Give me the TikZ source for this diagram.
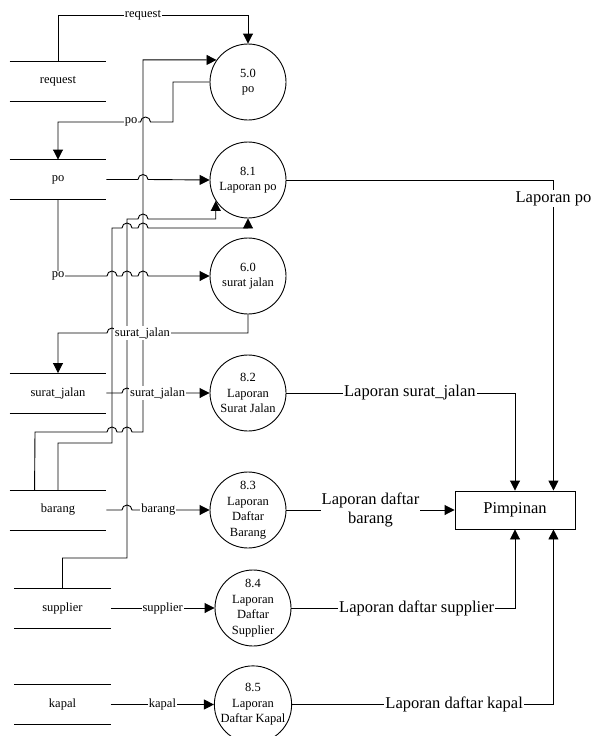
\documentclass[tikz,border=0pt]{standalone}
\usepackage{fontspec}
\setmainfont{Liberation Serif}
\newfontfamily\tnr{Liberation Serif}
\usetikzlibrary{arrows.meta,calc}
\newcommand{\hopR}[2]{-- (#1-5,#2) arc[start angle=180,end angle=0,radius=5pt]}
\newcommand{\hopL}[2]{-- (#1+5,#2) arc[start angle=0,end angle=180,radius=5pt]}
\begin{document}
\begin{tikzpicture}[x=1pt,y=-1pt,line width=0.9pt,
  proc/.style={circle,draw,minimum size=76pt,inner sep=0pt,align=center,font=\tnr\fontsize{12.5}{15.5}\selectfont},
  store/.style={minimum width=96pt,minimum height=39pt,inner sep=0pt,font=\tnr\fontsize{12.5}{15}\selectfont},
  ent/.style={draw,minimum width=120pt,minimum height=38pt,inner sep=0pt,font=\tnr\fontsize{16.5}{19.5}\selectfont},
  flow/.style={-{Triangle[length=10pt,width=10pt]}},
  lbl/.style={fill=white,inner sep=1pt,font=\tnr\fontsize{12.5}{15}\selectfont},
  blbl/.style={fill=white,inner sep=1pt,align=center,font=\tnr\fontsize{16.5}{19.5}\selectfont}]
\useasboundingbox (0,0) rectangle (593,736);

% processes
\node[proc] (c50) at (248,82) {5.0\\po};
\node[proc] (c81) at (248,180) {8.1\\Laporan po};
\node[proc] (c60) at (248,276) {6.0\\surat jalan};
\node[proc] (c82) at (248,393) {8.2\\Laporan\\Surat Jalan};
\node[proc] (c83) at (248,510) {8.3\\Laporan\\Daftar\\Barang};
\node[proc] (c84) at (253,608) {8.4\\Laporan\\Daftar\\Supplier};
\node[proc] (c85) at (253,704.5) {8.5\\Laporan\\Daftar Kapal};

% stores
\node[store] (sreq) at (58,81.5) {request};
\node[store] (spo) at (58,179.5) {po};
\node[store] (ssj) at (58,393) {surat\_jalan};
\node[store] (sbar) at (58,510) {barang};
\node[store] (ssup) at (62.5,608) {supplier};
\node[store] (skap) at (62.5,704.5) {kapal};
\foreach \s in {sreq,spo,ssj,sbar,ssup,skap}{
  \draw (\s.north west) -- (\s.north east) (\s.south west) -- (\s.south east);
}

% external entity
\node[ent] (pim) at (515,510) {Pimpinan};

% long routed flows
\draw[flow] ($(sbar.north west)+(25,0)$) -- (35,432) \hopR{112}{432} \hopR{127}{432} -- (143,432) |- (c50.145);
\draw[flow] (sbar.north) |- (112,443) -- (112,228) \hopR{127}{228} \hopR{143}{228} -| (c81.south);
\draw[flow] (ssup.north) |- (127,558) -- (127,219) \hopR{143}{219} -| (c81.213);

% request
\draw[flow] (sreq.north) -- (58,15) -- node[lbl,pos=0.447]{request} (248,15) -- (c50.north);
% 5.0 -> po store
\draw[flow] (c50.west) -- (173,82) -- (173,122) \hopL{145.5}{122} -- node[lbl,pos=0.115]{po} (58,122) -- (spo.north);
% po store -> 8.1
\draw[flow] (spo.east) \hopR{143}{179.5} -- (c81.west);
% po store -> 6.0
\draw[flow] (spo.south) -- (58,276) node[lbl]{po} \hopR{112}{276} \hopR{127}{276} \hopR{143}{276} -- (c60.west);
% 6.0 -> surat_jalan store
\draw[flow] (c60.south) |- node[lbl,pos=0.903]{surat\_jalan} (117,333) arc[start angle=0,end angle=180,radius=5pt] -| (ssj.north);
% stores -> reports
\draw[flow] (ssj.east) \hopR{127}{393} -- node[lbl,pos=0.33]{surat\_jalan} (c82.west);
\draw[flow] (sbar.east) \hopR{127}{510} -- node[lbl,pos=0.34]{barang} (c83.west);
\draw[flow] (ssup.east) -- node[lbl]{supplier} (c84.west);
\draw[flow] (skap.east) -- node[lbl]{kapal} (c85.west);

% reports -> Pimpinan
\draw[flow] (c81.east) -| node[blbl,pos=0.53]{Laporan po} ($(pim.north east)+(-22,0)$);
\draw[flow] (c82.east) -| node[blbl,pos=0.27]{Laporan surat\_jalan} (pim.north);
\draw[flow] (c83.east) -- node[blbl]{Laporan daftar\\barang} (pim.west);
\draw[flow] (c84.east) -| node[blbl,pos=0.28]{Laporan daftar supplier} (pim.south);
\draw[flow] (c85.east) -| node[blbl,pos=0.31]{Laporan daftar kapal} ($(pim.south east)+(-22,0)$);
\end{tikzpicture}
\end{document}
